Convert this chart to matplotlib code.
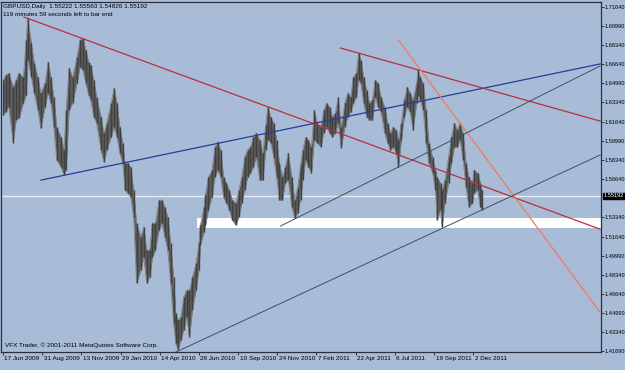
import numpy as np
import matplotlib
matplotlib.use("Agg")
import matplotlib.pyplot as plt
import matplotlib.transforms as mtrans

# GBPUSD daily (bar index, high, low)
bars = [0, 4, 8, 14, 18, 22, 28, 32, 34, 39, 43, 48, 52, 58, 62, 66, 70, 74, 80, 84,
        87, 91, 96, 102, 106, 110, 114, 118, 121, 125, 129, 135, 139, 143, 149, 153, 157, 161, 165, 168,
        172, 176, 180, 184, 190, 194, 198, 202, 206, 210, 215, 219, 223, 227, 231, 235, 238, 241, 245, 249,
        253, 257, 261, 266, 270, 272, 277, 279, 283, 288, 292, 296, 300, 304, 308, 312, 316, 321, 325, 329,
        333, 337, 341, 345, 349, 354, 358, 362, 365, 369, 373, 377, 381, 385, 389, 393, 398, 402, 406, 410,
        413, 417, 421, 425, 429, 433, 438, 442, 446, 450, 454, 458, 462, 466, 471, 475, 479, 483, 487, 490,
        493, 497, 501, 505, 509, 513, 517, 521, 526, 530, 534, 538, 542, 545, 549, 553, 557, 561, 565, 570,
        572, 575, 579, 583, 587, 592, 596, 598, 603, 605, 609, 614, 618, 622, 626, 630, 634, 638, 642, 647,
        649, 654, 658, 660]
highs = [1.6528, 1.6572, 1.6589, 1.6467, 1.6528, 1.6589, 1.6554, 1.6877, 1.7068, 1.6851, 1.6676, 1.6554, 1.6415, 1.6502, 1.6685, 1.6554, 1.6380, 1.6119, 1.6032, 1.5919,
         1.6267, 1.6633, 1.6554, 1.6729, 1.6877, 1.6894, 1.6790, 1.6685, 1.6659, 1.6528, 1.6380, 1.6206, 1.6067, 1.6154, 1.6328, 1.6459, 1.6328, 1.6119, 1.5980, 1.5805,
         1.5805, 1.5770, 1.5570, 1.5283, 1.5161, 1.5248, 1.5048, 1.5048, 1.5283, 1.5283, 1.5483, 1.5483, 1.5422, 1.5335, 1.5109, 1.4812, 1.4499, 1.4438, 1.4464, 1.4638,
         1.4699, 1.4699, 1.4812, 1.4934, 1.5109, 1.5265, 1.5422, 1.5527, 1.5683, 1.5744, 1.5945, 1.5988, 1.5919, 1.5683, 1.5631, 1.5570, 1.5483, 1.5457, 1.5570, 1.5683,
         1.5858, 1.5919, 1.5945, 1.6032, 1.6067, 1.6006, 1.5892, 1.6136, 1.6293, 1.6206, 1.6154, 1.6006, 1.5805, 1.5683, 1.5770, 1.5892, 1.5683, 1.5483, 1.5588, 1.5788,
         1.5919, 1.6032, 1.6006, 1.5945, 1.6267, 1.6154, 1.6119, 1.6267, 1.6328, 1.6293, 1.6206, 1.6241, 1.6380, 1.6119, 1.6328, 1.6415, 1.6380, 1.6554, 1.6589, 1.6763,
         1.6702, 1.6554, 1.6441, 1.6328, 1.6354, 1.6528, 1.6502, 1.6380, 1.6293, 1.6154, 1.6067, 1.6119, 1.6093, 1.6006, 1.6154, 1.6354, 1.6467, 1.6415, 1.6354, 1.6502,
         1.6615, 1.6554, 1.6502, 1.6267, 1.5980, 1.5858, 1.5744, 1.5683, 1.5631, 1.5570, 1.5657, 1.5858, 1.6032, 1.6154, 1.6093, 1.6154, 1.6067, 1.5805, 1.5683, 1.5631,
         1.5744, 1.5718, 1.5631, 1.5570]
lows = [1.6223, 1.6250, 1.6293, 1.5980, 1.6180, 1.6197, 1.6328, 1.6398, 1.6702, 1.6554, 1.6415, 1.6267, 1.6110, 1.6293, 1.6415, 1.6328, 1.6119, 1.5831, 1.5770, 1.5701,
        1.5744, 1.6267, 1.6328, 1.6502, 1.6641, 1.6615, 1.6502, 1.6398, 1.6354, 1.6206, 1.6154, 1.5919, 1.5814, 1.5919, 1.6032, 1.6119, 1.6032, 1.5892, 1.5805, 1.5570,
        1.5544, 1.5509, 1.5335, 1.4760, 1.4873, 1.4987, 1.4760, 1.4812, 1.4987, 1.5048, 1.5222, 1.5283, 1.5161, 1.5048, 1.4760, 1.4412, 1.4238, 1.4177, 1.4264, 1.4351,
        1.4464, 1.4290, 1.4525, 1.4699, 1.4873, 1.5091, 1.5204, 1.5265, 1.5396, 1.5509, 1.5683, 1.5744, 1.5683, 1.5509, 1.5457, 1.5396, 1.5309, 1.5265, 1.5335, 1.5457,
        1.5570, 1.5683, 1.5718, 1.5770, 1.5858, 1.5657, 1.5657, 1.5919, 1.6006, 1.5980, 1.5858, 1.5683, 1.5483, 1.5483, 1.5631, 1.5657, 1.5422, 1.5326, 1.5370, 1.5483,
        1.5657, 1.5831, 1.5770, 1.5718, 1.6006, 1.5980, 1.5945, 1.6067, 1.6119, 1.6067, 1.6032, 1.6067, 1.6154, 1.5936, 1.6119, 1.6206, 1.6250, 1.6328, 1.6380, 1.6528,
        1.6502, 1.6328, 1.6206, 1.6180, 1.6180, 1.6380, 1.6293, 1.6250, 1.6067, 1.5980, 1.5919, 1.5945, 1.5892, 1.5770, 1.6006, 1.6206, 1.6293, 1.6250, 1.6093, 1.6328,
        1.6398, 1.6354, 1.6267, 1.5980, 1.5805, 1.5718, 1.5570, 1.5309, 1.5396, 1.5248, 1.5457, 1.5631, 1.5805, 1.5945, 1.5945, 1.6006, 1.5832, 1.5596, 1.5422, 1.5457,
        1.5544, 1.5570, 1.5422, 1.5396]
last_price = 1.55192

date_ticks = [0, 54, 108, 162, 216, 270, 324, 378, 432, 486, 540, 594, 648]
date_labels = ["17 Jun 2009", "31 Aug 2009", "13 Nov 2009", "29 Jan 2010", "14 Apr 2010",
               "28 Jun 2010", "10 Sep 2010", "24 Nov 2010", "7 Feb 2011", "22 Apr 2011",
               "6 Jul 2011", "19 Sep 2011", "2 Dec 2011"]
price_ticks = [1.71640, 1.69990, 1.68340, 1.66640, 1.64990, 1.63340, 1.61640, 1.59990,
               1.58340, 1.56640, 1.53340, 1.51640, 1.49990, 1.48340, 1.46640,
               1.44990, 1.43340, 1.41690]

# trendlines: (bar, price) -> (bar, price)
trend_lines = [
    ((28.9, 1.7077), (822.7, 1.5230), "#b8303c", 0.9),
    ((52.3, 1.5657), (822.7, 1.6668), "#283c9c", 0.9),
    ((465.0, 1.6807), (822.7, 1.6171), "#b8303c", 0.9),
    ((544.8, 1.6877), (822.7, 1.4508), "#f07a58", 0.9),
    ((382.5, 1.5257), (822.7, 1.6650), "#3c5262", 0.7),
    ((238.0, 1.4159), (822.7, 1.5875), "#3c5262", 0.7),
]
zone_start = 266.9
zone_lo, zone_hi = 1.5239, 1.5326

bg = "#a8bcd7"
fig = plt.figure(figsize=(6.25, 3.70), dpi=100, facecolor=bg)
ax = fig.add_axes([0.0016, 1 - 352 / 370, 600 / 625, 350 / 370], facecolor=bg)
x0, x1 = -2.75, 824.1
ax.set_xlim(x0, x1)
ax.set_ylim(1.41604, 1.72075)

# support zone + current price line
ax.fill_between([zone_start, x1], zone_lo, zone_hi, color="white", lw=0, zorder=1)
ax.axhline(last_price, color="#e4eaf2", lw=1.0, zorder=1)

# price bars
b = np.array(bars)
ax.fill_between(b, lows, highs, color="#5c5c5c", lw=0, zorder=2)
ax.vlines(b, lows, highs, color="#404040", lw=1.0, zorder=3)
ax.plot(b, highs, color="#858585", lw=0.6, zorder=2)
ax.plot(b, lows, color="#858585", lw=0.6, zorder=2)

for (xa, ya), (xb, yb), c, w in trend_lines:
    ax.plot([xa, xb], [ya, yb], color=c, lw=w, zorder=4)

tfont = dict(family="Liberation Sans", size=4.6, color="black")
yfont = dict(family="Liberation Sans", size=4.1, color="black")
ax.yaxis.tick_right()
ax.set_yticks(price_ticks)
ax.set_yticklabels(["%.5f" % v for v in price_ticks], **yfont)
ax.tick_params(axis="y", length=2, width=0.6, pad=0.5, color="#222222")
ax.set_xticks(date_ticks)
ax.set_xticklabels(date_labels, ha="left", **tfont)
ax.tick_params(axis="x", length=2, width=0.6, pad=1, color="#222222")
off = mtrans.ScaledTranslation(1.5 / 100, 0, fig.dpi_scale_trans)
for lab in ax.get_xticklabels():
    lab.set_transform(lab.get_transform() + off)

for s in ax.spines.values():
    s.set_color("#2a3040")
    s.set_linewidth(0.9)

ax.text(1.004, last_price, "%.5f" % last_price, transform=ax.get_yaxis_transform(),
        va="center", ha="left", color="white", family="Liberation Sans", size=4.1,
        bbox=dict(boxstyle="square,pad=0.15", fc="black", ec="black"), zorder=6, clip_on=False)

ax.text(0.004, 0.995, "GBPUSD,Daily  1.55222 1.55563 1.54826 1.55192", transform=ax.transAxes,
        va="top", ha="left", **tfont)
ax.text(0.004, 0.972, "119 minutes 59 seconds left to bar end", transform=ax.transAxes,
        va="top", ha="left", **tfont)
ax.text(0.006, 0.012, "VFX Trader, \u00a9 2001-2011 MetaQuotes Software Corp.", transform=ax.transAxes,
        va="bottom", ha="left", **tfont)

fig.savefig("out.png", dpi=100, facecolor=bg)
